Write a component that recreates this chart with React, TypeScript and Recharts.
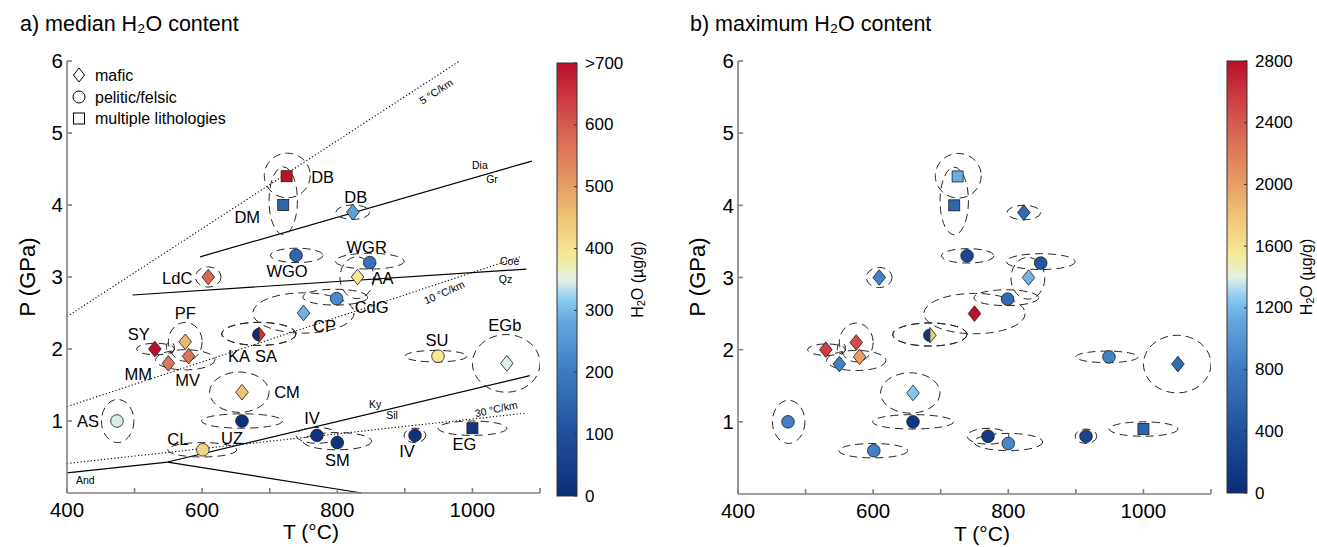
import { ReferenceLine, Scatter, ScatterChart, XAxis, YAxis } from "recharts";

const FONT = "'Liberation Sans', Arial, Helvetica, sans-serif";

// sites (same P-T estimates in both panels)
const siteLabels = ["DB", "DM", "DB", "WGO", "WGR", "AA", "LdC", "CdG", "CP", "KA", "SA", "PF", "SY", "MV", "MM", "CM", "SU", "EGb", "AS", "UZ", "CL", "IV", "SM", "IV", "EG"];
const lithology = ["multi", "multi", "mafic", "pelitic", "pelitic", "mafic", "mafic", "pelitic", "mafic", "pelitic", "mafic", "mafic", "mafic", "mafic", "mafic", "mafic", "pelitic", "mafic", "pelitic", "pelitic", "pelitic", "pelitic", "pelitic", "pelitic", "multi"];
const temperature = [725, 720, 823, 739, 848, 830, 609, 799, 750, 684, 684, 575, 530, 580, 550, 659, 949, 1051, 474, 659, 601, 770, 800, 915, 1000];
const pressure = [4.4, 4.0, 3.9, 3.3, 3.2, 3.0, 3.0, 2.7, 2.5, 2.2, 2.2, 2.1, 2.0, 1.9, 1.8, 1.4, 1.9, 1.8, 1.0, 1.0, 0.6, 0.8, 0.7, 0.8, 0.9];
const medianH2O = [700, 150, 270, 150, 180, 390, 580, 230, 290, 10, 650, 470, 730, 560, 560, 450, 390, 350, 345, 10, 420, 20, 20, 20, 30];
const maxH2O = [1150, 600, 650, 300, 450, 1180, 850, 650, 2800, 100, 1780, 2480, 2550, 2000, 850, 1250, 850, 650, 850, 100, 850, 150, 900, 250, 600];

// P-T uncertainty ellipses (centre and half-widths)
const ellipseT = [726, 720, 823, 740, 848, 829, 609, 797, 750, 684, 684, 575, 531, 575, 553, 655, 946, 1050, 475, 659, 600, 770, 800, 915, 1000];
const ellipseP = [4.41, 4.06, 3.9, 3.3, 3.22, 2.99, 3.0, 2.72, 2.5, 2.21, 2.21, 2.1, 2.0, 1.85, 2.02, 1.4, 1.9, 1.8, 1.0, 1.0, 0.6, 0.8, 0.72, 0.8, 0.9];
const sigmaT = [34, 21, 25, 39, 51, 25, 19, 48, 75, 55, 55, 25, 28, 44, 6, 44, 46, 50, 24, 60, 51, 31, 51, 16, 51];
const sigmaP = [0.31, 0.47, 0.1, 0.1, 0.11, 0.29, 0.14, 0.11, 0.28, 0.16, 0.16, 0.27, 0.08, 0.14, 0.08, 0.28, 0.08, 0.4, 0.3, 0.1, 0.1, 0.11, 0.12, 0.1, 0.1];

// label offsets in px (layout only)
const labelOffset = [[36, 1], [-36, 12], [3, -15], [-9, 16], [-3, -16], [25, 1], [-31, 1], [35, 8], [21, 13], [-20, 21], [7, 21], [0, -29], [-16, -15], [-1, 24], [-30, 11], [45, 0], [-1, -16], [-2, -38], [-29, 0], [-10, 17], [-25, -11], [-5, -17], [0, 17], [-8, 16], [-8, 16]];

// reaction lines and geotherms [T1, P1, T2, P2]
const solidLines = [
  [597, 3.28, 1088, 4.61],
  [497, 2.75, 1080, 3.11],
  [400, 0.28, 549, 0.43],
  [549, 0.43, 1085, 1.63],
  [549, 0.43, 836, 0.0],
];
const geotherms = [
  [400, 2.45, 981, 6.0],
  [400, 1.2, 1070, 3.28],
  [400, 0.41, 1080, 1.11],
];
const lineLabelText = ["5 °C/km", "10 °C/km", "30 °C/km", "Dia", "Gr", "Coe", "Qz", "Ky", "Sil", "And"];
const lineLabelT = [946, 958, 1035, 1011, 1029, 1055, 1049, 856, 881, 427];
const lineLabelP = [5.58, 2.79, 1.17, 4.56, 4.36, 3.22, 2.97, 1.24, 1.08, 0.18];
const lineLabelAngle = [-33, -24, -12, 0, 0, 0, 0, 0, 0, 0];

const xTicks = [400, 500, 600, 700, 800, 900, 1000, 1100];
const yTicks = [1, 2, 3, 4, 5, 6];
const medianTicks = [0, 100, 200, 300, 400, 500, 600, 700];
const maxTicks = [0, 400, 800, 1200, 1600, 2000, 2400, 2800];

const cmap: [number, string][] = [
  [0, "#0b2d78"], [0.14, "#1f4f9c"], [0.29, "#3d7cc2"], [0.4, "#63a6dd"], [0.45, "#86c9f2"],
  [0.5, "#e4f1e6"], [0.55, "#f5ea98"], [0.64, "#efc676"], [0.72, "#e69c64"], [0.8, "#dd7658"],
  [0.88, "#d24f4b"], [1, "#bb0f2b"],
];

function hex(c: string) {
  return [1, 3, 5].map((i) => parseInt(c.slice(i, i + 2), 16));
}
function colorOf(v: number, vmax: number) {
  const t = Math.max(0, Math.min(1, v / vmax));
  for (let i = 1; i < cmap.length; i++) {
    if (t <= cmap[i][0]) {
      const [t0, c0] = cmap[i - 1];
      const [t1, c1] = cmap[i];
      const f = (t - t0) / (t1 - t0);
      const a = hex(c0), b = hex(c1);
      return `rgb(${a.map((x, k) => Math.round(x + (b[k] - x) * f)).join(",")})`;
    }
  }
  return cmap[cmap.length - 1][1];
}

const PLOT_W = 473;
const PLOT_H = 432;
const PX_T = PLOT_W / 700;
const PX_P = PLOT_H / 6;

function Marker(props: any) {
  const { cx, cy, payload } = props;
  const st = { fill: payload.color, stroke: "#1a1a1a", strokeWidth: 0.8 };
  if (payload.label === "KA") {
    return <path d={`M${cx},${cy - 6.3} A6.3,6.3 0 0 0 ${cx},${cy + 6.3} Z`} {...st} />;
  }
  if (payload.label === "SA") {
    return <path d={`M${cx},${cy - 7.8} L${cx + 6.3},${cy} L${cx},${cy + 7.8} Z`} {...st} />;
  }
  if (payload.lith === "mafic") {
    return <path d={`M${cx},${cy - 7.8} L${cx + 6.3},${cy} L${cx},${cy + 7.8} L${cx - 6.3},${cy} Z`} {...st} />;
  }
  if (payload.lith === "multi") {
    return <rect x={cx - 5.5} y={cy - 5.5} width={11} height={11} {...st} />;
  }
  return <circle cx={cx} cy={cy} r={6.3} {...st} />;
}

function Ellipse(props: any) {
  const { cx, cy, payload } = props;
  return (
    <ellipse cx={cx} cy={cy} rx={payload.sT * PX_T} ry={payload.sP * PX_P} fill="none" stroke="#262626" strokeWidth={1} strokeDasharray="8 5" />
  );
}

function SiteLabel(props: any) {
  const { cx, cy, payload } = props;
  return (
    <text x={cx + payload.dx} y={cy + payload.dy} textAnchor="middle" dominantBaseline="central" fontSize={16.5} fontFamily={FONT} fill="#000">
      {payload.label}
    </text>
  );
}

function LineLabel(props: any) {
  const { cx, cy, payload } = props;
  return (
    <text x={cx} y={cy} textAnchor="middle" dominantBaseline="central" fontSize={10.5} fontFamily={FONT} fill="#000" transform={`rotate(${payload.angle} ${cx} ${cy})`}>
      {payload.text}
    </text>
  );
}

function Panel({ values, vmax, labels, margin }: { values: number[]; vmax: number; labels: boolean; margin: any }) {
  const sites = siteLabels.map((label, i) => ({
    label, lith: lithology[i], T: temperature[i], P: pressure[i], color: colorOf(values[i], vmax),
    dx: labelOffset[i][0], dy: labelOffset[i][1],
  }));
  const ellipses = siteLabels.map((_, i) => ({ T: ellipseT[i], P: ellipseP[i], sT: sigmaT[i], sP: sigmaP[i] }));
  const lineLabels = lineLabelText.map((text, i) => ({ text, T: lineLabelT[i], P: lineLabelP[i], angle: lineLabelAngle[i] }));
  const axisStyle = { stroke: "#808080", strokeWidth: 1.6 };
  return (
    <ScatterChart width={560} height={547} margin={margin}>
      <XAxis type="number" dataKey="T" domain={[400, 1100]} ticks={xTicks} allowDataOverflow height={1}
        tickFormatter={(v: number) => (v % 200 === 0 ? String(v) : "")}
        tick={{ fill: "#000", fontSize: 20.5, fontFamily: FONT }} axisLine={axisStyle} tickLine={axisStyle} tickSize={-5} tickMargin={14} />
      <YAxis type="number" dataKey="P" domain={[0, 6]} ticks={yTicks} allowDataOverflow width={1}
        tick={{ fill: "#000", fontSize: 20.5, fontFamily: FONT }} axisLine={axisStyle} tickLine={axisStyle} tickSize={-5} tickMargin={9} />
      <Scatter data={ellipses} shape={Ellipse} isAnimationActive={false} />
      {labels && solidLines.map((l, i) => (
        <ReferenceLine key={"s" + i} segment={[{ x: l[0], y: l[1] }, { x: l[2], y: l[3] }]} stroke="#000" strokeWidth={1.2} ifOverflow="visible" />
      ))}
      {labels && geotherms.map((l, i) => (
        <ReferenceLine key={"g" + i} segment={[{ x: l[0], y: l[1] }, { x: l[2], y: l[3] }]} stroke="#000" strokeWidth={1.1} strokeDasharray="1.2 2.2" ifOverflow="visible" />
      ))}
      {labels && <Scatter data={lineLabels} shape={LineLabel} isAnimationActive={false} />}
      <Scatter data={sites} shape={Marker} isAnimationActive={false} />
      {labels && <Scatter data={sites} shape={SiteLabel} isAnimationActive={false} />}
    </ScatterChart>
  );
}

function ColorBar({ x, top, bottom, ticks, vmax, fmt, id, labelX }: any) {
  const h = bottom - top;
  return (
    <g fontFamily={FONT}>
      <defs>
        <linearGradient id={id} x1="0" y1="1" x2="0" y2="0">
          {cmap.map(([t, c]) => <stop key={t} offset={`${t * 100}%`} stopColor={c} />)}
        </linearGradient>
      </defs>
      <rect x={x} y={top} width={20} height={h} fill={`url(#${id})`} stroke="#333" strokeWidth={1} />
      {ticks.map((v: number) => {
        const y = bottom - (v / vmax) * h;
        return (
          <g key={v}>
            <line x1={x + 20} x2={x + 17} y1={y} y2={y} stroke="#333" />
            <text x={x + 28} y={y} dominantBaseline="central" fontSize={17}>{fmt(v)}</text>
          </g>
        );
      })}
      <text x={labelX} y={(top + bottom) / 2} textAnchor="middle" fontSize={16} transform={`rotate(-90 ${labelX} ${(top + bottom) / 2})`} dominantBaseline="central">
        H<tspan fontSize={11} dy={4}>2</tspan><tspan dy={-4}>O (µg/g)</tspan>
      </text>
    </g>
  );
}

export default function App() {
  return (
    <div style={{ position: "absolute", left: 0, top: 0, width: 1317, height: 547, background: "#fff", fontFamily: FONT }}>
      <div style={{ position: "absolute", left: 0, top: 0 }}>
        <Panel values={medianH2O} vmax={700} labels margin={{ top: 61, right: 20, bottom: 53, left: 66 }} />
      </div>
      <div style={{ position: "absolute", left: 680, top: 0 }}>
        <Panel values={maxH2O} vmax={2800} labels={false} margin={{ top: 61, right: 29, bottom: 52, left: 57 }} />
      </div>
      <svg width={1317} height={547} style={{ position: "absolute", left: 0, top: 0, pointerEvents: "none" }}>
        <text x={20} y={31} fontSize={21.5} fontFamily={FONT}>a) median H₂O content</text>
        <text x={690} y={31} fontSize={21.5} fontFamily={FONT}>b) maximum H₂O content</text>
        <text x={27} y={277} fontSize={22} fontFamily={FONT} textAnchor="middle" dominantBaseline="central" transform="rotate(-90 27 277)">P (GPa)</text>
        <text x={697} y={277} fontSize={22} fontFamily={FONT} textAnchor="middle" dominantBaseline="central" transform="rotate(-90 697 277)">P (GPa)</text>
        <text x={311} y={531} fontSize={21} fontFamily={FONT} textAnchor="middle" dominantBaseline="central">T (°C)</text>
        <text x={982} y={533} fontSize={21} fontFamily={FONT} textAnchor="middle" dominantBaseline="central">T (°C)</text>
        <g fontFamily={FONT} fontSize={16} fill="none" stroke="#000" strokeWidth={1}>
          <path d="M79,68 L84.5,75 L79,82 L73.5,75 Z" />
          <circle cx={79} cy={97} r={6} />
          <rect x={73.5} y={113} width={11} height={11} />
        </g>
        <g fontFamily={FONT} fontSize={16} fill="#000">
          <text x={95} y={75} dominantBaseline="central">mafic</text>
          <text x={95} y={97} dominantBaseline="central">pelitic/felsic</text>
          <text x={95} y={118} dominantBaseline="central">multiple lithologies</text>
        </g>
        <ColorBar x={557} top={63} bottom={496} ticks={medianTicks} vmax={700} id="cbA" labelX={637}
          fmt={(v: number) => (v === 700 ? ">700" : String(v))} />
        <ColorBar x={1227} top={61} bottom={493} ticks={maxTicks} vmax={2800} id="cbB" labelX={1306}
          fmt={(v: number) => String(v)} />
      </svg>
    </div>
  );
}
